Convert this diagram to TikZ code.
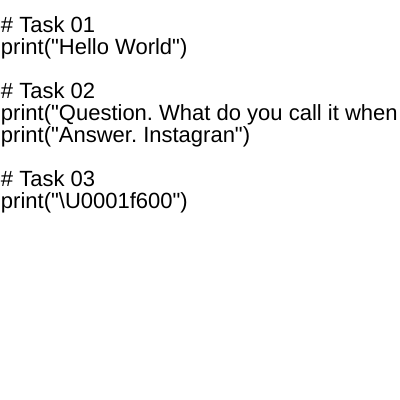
\documentclass[tikz,border=0pt]{standalone}
\usepackage{fontspec}
\setmainfont{Liberation Sans}[Ligatures=TeXOff]
\begin{document}
\frenchspacing
\begin{tikzpicture}[x=1pt,y=-1pt,
  codeline/.style={anchor=base west,inner sep=0pt,outer sep=0pt,text=black,
    font=\frenchspacing\fontsize{22}{22}\selectfont}]
\useasboundingbox (0,0) rectangle (400,400);
\clip (0,0) rectangle (400,400);
\fill[white] (0,0) rectangle (400,400);
\node[codeline] (t1) at (1,32) {\# Task 01};
\node[codeline] (p1) at (1,54) {print("Hello World")};
\node[codeline] (t2) at (1,98) {\# Task 02};
\node[codeline] (p2) at (1,120) {print("Question. What do you call it when};
\node[codeline] (p3) at (1,142) {print("Answer. Instagran")};
\node[codeline] (t3) at (1,186) {\# Task 03};
\node[codeline] (p4) at (1,208) {print("\textbackslash U0001f600")};
\end{tikzpicture}
\end{document}
